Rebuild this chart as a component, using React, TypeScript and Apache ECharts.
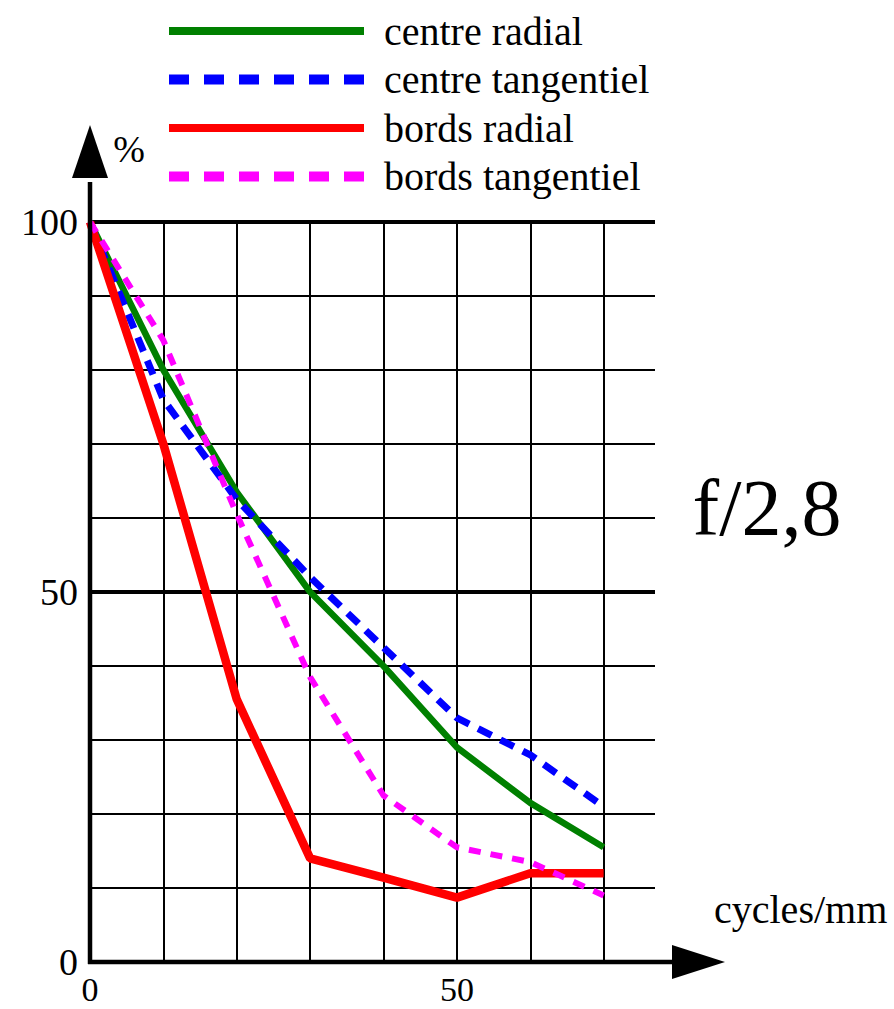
import React, { useEffect, useRef } from "react";
import * as echarts from "echarts";

// Spatial frequency (cycles/mm) and MTF values (%)
const frequencies = [0, 10, 20, 30, 40, 50, 60, 70];
const centreRadial = [100, 80, 63.5, 50, 40, 29, 21.5, 15.5];
const centreTangentiel = [100, 76, 62.5, 52, 42.5, 33, 28, 21];
const bordsRadial = [100, 70, 35.5, 14, 11.4, 8.7, 12, 12];
const bordsTangentiel = [100, 84, 60.5, 38.5, 22.5, 15.5, 13.5, 9];
const seriesNames = ["centre radial", "centre tangentiel", "bords radial", "bords tangentiel"];
const xTickLabels = [0, 50];
const yTickLabels = [0, 50, 100];
const apertureLabel = "f/2,8";
const yUnit = "%";
const xUnit = "cycles/mm";

export default function App() {
  const ref = useRef<HTMLDivElement>(null);

  useEffect(() => {
    if (!ref.current) return;
    const chart = echarts.init(ref.current, null, { renderer: "svg" });
    const fontFamily = "Liberation Serif";
    const colors = ["#008000", "#0000ff", "#ff0000", "#ff00ff"];
    const values = [centreRadial, centreTangentiel, bordsRadial, bordsTangentiel];
    const lineWidths = [6.5, 7, 8.5, 6];
    const lineDash: any[] = ["solid", [15, 10], "solid", [12, 10]];
    const legendWidths = [8, 10, 8, 10];
    const legendDash: any[] = ["solid", [20, 15], "solid", [20, 15]];
    const fmt = (allowed: number[]) => (v: number) => (allowed.includes(v) ? String(v) : "");

    chart.setOption({
      animation: false,
      backgroundColor: "#ffffff",
      grid: {
        left: 90,
        top: 222,
        width: 565,
        height: 740,
        containLabel: false,
        outerBoundsMode: "none",
      },
      xAxis: {
        type: "value",
        min: 0,
        max: 77,
        interval: 10,
        axisLine: { show: false },
        axisTick: { show: false },
        axisLabel: {
          formatter: fmt(xTickLabels),
          fontSize: 34,
          lineHeight: 26,
          fontFamily,
          color: "#000",
          margin: 14,
          showMaxLabel: false,
        },
        splitLine: { show: true, showMaxLine: false, lineStyle: { color: "#000", width: 2 } },
      },
      yAxis: [
        {
          type: "value",
          min: 0,
          max: 100,
          interval: 10,
          axisLine: { show: false },
          axisTick: { show: false },
          axisLabel: {
            formatter: fmt(yTickLabels),
            fontSize: 38,
            fontFamily,
            color: "#000",
            margin: 12,
          },
          splitLine: { show: true, lineStyle: { color: "#000", width: 2 } },
        },
        {
          type: "value",
          min: 0,
          max: 100,
          interval: 50,
          position: "left",
          axisLine: { show: false },
          axisTick: { show: false },
          axisLabel: { show: false },
          splitLine: { show: true, lineStyle: { color: "#000", width: 4 } },
        },
      ],
      legend: {
        orient: "vertical",
        left: 164,
        top: -3,
        padding: 0,
        itemWidth: 195,
        itemHeight: 10,
        itemGap: -19.5,
        selectedMode: false,
        textStyle: {
          fontSize: 40,
          lineHeight: 40,
          fontFamily,
          color: "#000",
          padding: [0, 0, 28, 15],
        },
        data: seriesNames.map((name, i) => ({
          name,
          itemStyle: { opacity: 0, borderWidth: 0 },
          lineStyle: { width: legendWidths[i], type: legendDash[i], color: colors[i], cap: "butt" },
        })),
      },
      series: seriesNames.map((name, i) => ({
        name,
        type: "line",
        data: frequencies.map((f, j) => [f, values[i][j]]),
        symbol: "none",
        showSymbol: false,
        itemStyle: { color: colors[i] },
        lineStyle: { color: colors[i], width: lineWidths[i], type: lineDash[i] },
        z: 3 + i,
      })),
    });

    const o = chart.convertToPixel({ gridIndex: 0 }, [0, 0]) as number[];
    const t = chart.convertToPixel({ gridIndex: 0 }, [0, 100]) as number[];
    const axisStyle = { stroke: "#000", lineWidth: 4.5 };
    const textStyle = (text: string, size: number, align: string) => ({
      text,
      fill: "#000",
      fontSize: size,
      fontFamily,
      align,
      verticalAlign: "middle",
      textAlign: align,
      textVerticalAlign: "middle",
    });
    chart.setOption({
      graphic: [
        { type: "line", shape: { x1: o[0] - 2, y1: o[1], x2: o[0] + 590, y2: o[1] }, style: axisStyle, z: 10 },
        { type: "line", shape: { x1: o[0], y1: o[1] + 2, x2: o[0], y2: t[1] - 40 }, style: axisStyle, z: 10 },
        {
          type: "polygon",
          shape: { points: [[o[0] + 582, o[1] - 17], [o[0] + 635, o[1]], [o[0] + 582, o[1] + 17]] },
          style: { fill: "#000" },
          z: 10,
        },
        {
          type: "polygon",
          shape: { points: [[o[0] - 18, t[1] - 44], [o[0], t[1] - 97], [o[0] + 18, t[1] - 44]] },
          style: { fill: "#000" },
          z: 10,
        },
        { type: "text", x: 129, y: 149, style: textStyle(yUnit, 38, "center"), z: 10 },
        { type: "text", x: 714, y: 909, style: textStyle(xUnit, 40, "left"), z: 10 },
        { type: "text", x: 767, y: 508, style: textStyle(apertureLabel, 80, "center"), z: 10 },
      ],
    });

    return () => chart.dispose();
  }, []);

  return (
    <div
      ref={ref}
      style={{ position: "fixed", left: 0, top: 0, width: 894, height: 1009, background: "#fff" }}
    />
  );
}
